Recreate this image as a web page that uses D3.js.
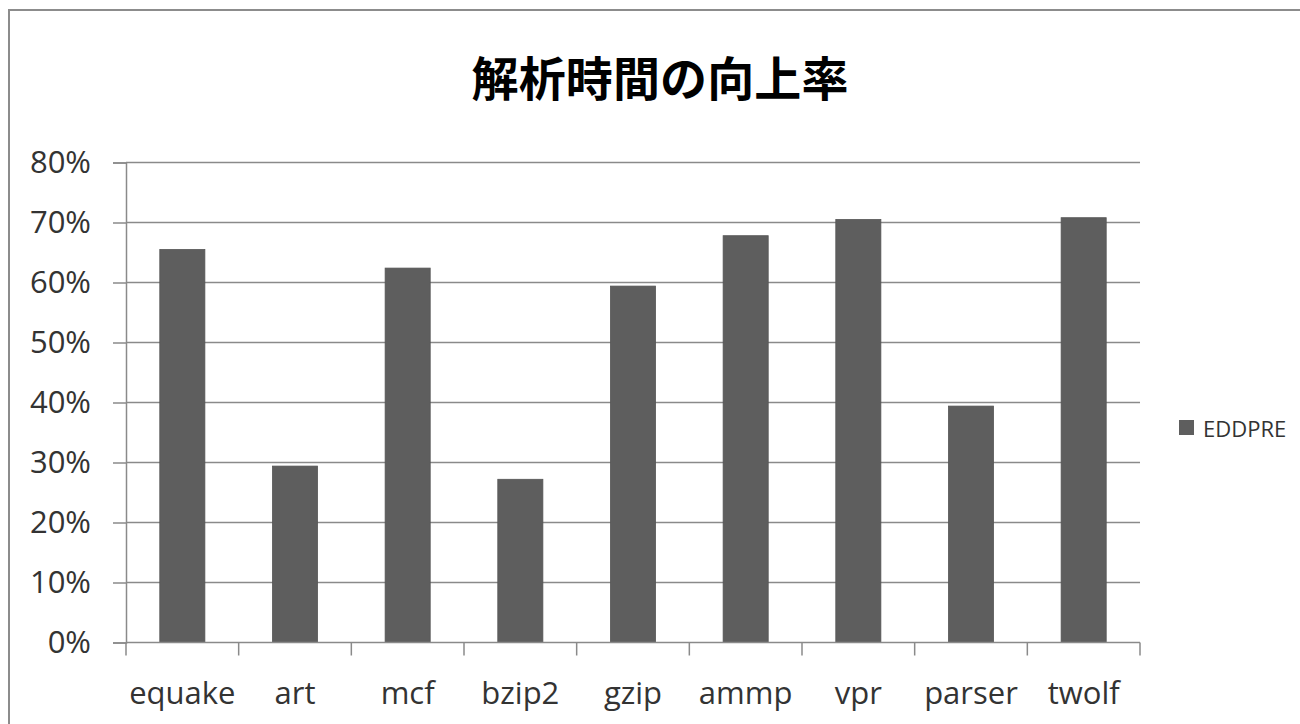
<!DOCTYPE html>
<html>
<head>
<meta charset="utf-8">
<script src="https://cdn.jsdelivr.net/npm/d3@7"></script>
<style>
	body { margin: 0; background: #fff; }
	svg { display: block; }
</style>
</head>
<body>
<div id="chart"></div>
<script>
// data
const categories = ["equake", "art", "mcf", "bzip2", "gzip", "ammp", "vpr", "parser", "twolf"];
const values = [0.655, 0.294, 0.624, 0.272, 0.594, 0.678, 0.705, 0.394, 0.708];
const yTicks = [0, 0.1, 0.2, 0.3, 0.4, 0.5, 0.6, 0.7, 0.8];
const seriesName = "EDDPRE";
const title = "解析時間の向上率";

const width = 1300, height = 724;
const plot = { left: 126, right: 1140, top: 162.5, bottom: 642.5 };
const latin = "'Open Sans', 'Noto Sans', sans-serif";

const svg = d3.select("#chart")
	.append("svg")
	.attr("width", width)
	.attr("height", height);

svg.append("rect").attr("width", width).attr("height", height).attr("fill", "#fff");

// chart frame (only top and left edges are visible in the crop)
svg.append("path")
	.attr("d", `M9,${height} V10 H${width}`)
	.attr("fill", "none")
	.attr("stroke", "#8c8c8c")
	.attr("stroke-width", 2);

// title
svg.append("text")
	.attr("x", 660)
	.attr("y", 75)
	.attr("text-anchor", "middle")
	.attr("dominant-baseline", "central")
	.attr("font-family", "'Noto Sans CJK JP', sans-serif")
	.attr("font-weight", "bold")
	.attr("font-size", 47)
	.attr("textLength", 377)
	.attr("lengthAdjust", "spacing")
	.attr("fill", "#000")
	.text(title);

const x = d3.scaleBand()
	.domain(categories)
	.range([plot.left, plot.right])
	.paddingInner(0.6)
	.paddingOuter(0.3);

const y = d3.scaleLinear()
	.domain([0, 0.8])
	.range([plot.bottom, plot.top]);

// gridlines
svg.append("g")
	.selectAll("line")
	.data(yTicks.filter((d) => d > 0))
	.join("line")
	.attr("x1", plot.left)
	.attr("x2", plot.right)
	.attr("y1", (d) => y(d))
	.attr("y2", (d) => y(d))
	.attr("stroke", "#8a8a8a")
	.attr("stroke-width", 1.5);

// y axis
const yAxis = svg.append("g")
	.attr("transform", `translate(${plot.left},0)`)
	.call(d3.axisLeft(y).tickValues(yTicks).tickFormat(d3.format(".0%")).tickSize(13).tickPadding(22));
yAxis.select(".domain").attr("stroke", "#8a8a8a").attr("stroke-width", 1.5);
yAxis.selectAll(".tick line").attr("stroke", "#8a8a8a").attr("stroke-width", 1.5);
yAxis.selectAll(".tick text")
	.attr("font-family", latin)
	.attr("font-size", 31)
	.attr("fill", "#333");

// bars
svg.append("g")
	.selectAll("rect")
	.data(values)
	.join("rect")
	.attr("x", (d, i) => x(categories[i]))
	.attr("y", (d) => y(d))
	.attr("width", x.bandwidth())
	.attr("height", (d) => y(0) - y(d))
	.attr("fill", "#5e5e5e")
	.attr("stroke", "#555")
	.attr("stroke-width", 0.8);

// x axis: ticks sit on the category boundaries
const step = x.step();
const bounds = d3.range(categories.length + 1).map((i) => plot.left + i * step);
const xAxis = svg.append("g");
xAxis.append("line")
	.attr("x1", plot.left)
	.attr("x2", plot.right)
	.attr("y1", y(0))
	.attr("y2", y(0))
	.attr("stroke", "#8a8a8a")
	.attr("stroke-width", 1.5);
xAxis.selectAll(".xt")
	.data(bounds)
	.join("line")
	.attr("class", "xt")
	.attr("x1", (d) => d)
	.attr("x2", (d) => d)
	.attr("y1", y(0))
	.attr("y2", y(0) + 13)
	.attr("stroke", "#8a8a8a")
	.attr("stroke-width", 1.5);
xAxis.selectAll("text")
	.data(categories)
	.join("text")
	.attr("x", (d) => x(d) + x.bandwidth() / 2)
	.attr("y", 704)
	.attr("text-anchor", "middle")
	.attr("font-family", latin)
	.attr("font-size", 31)
	.attr("fill", "#333")
	.text((d) => d);

// legend
const legend = svg.append("g").attr("transform", "translate(1179,420)");
legend.append("rect")
	.attr("width", 15)
	.attr("height", 15)
	.attr("fill", "#5e5e5e");
legend.append("text")
	.attr("x", 24)
	.attr("y", 8)
	.attr("dominant-baseline", "central")
	.attr("font-family", latin)
	.attr("font-size", 22)
	.attr("fill", "#333")
	.text(seriesName);
</script>
</body>
</html>
